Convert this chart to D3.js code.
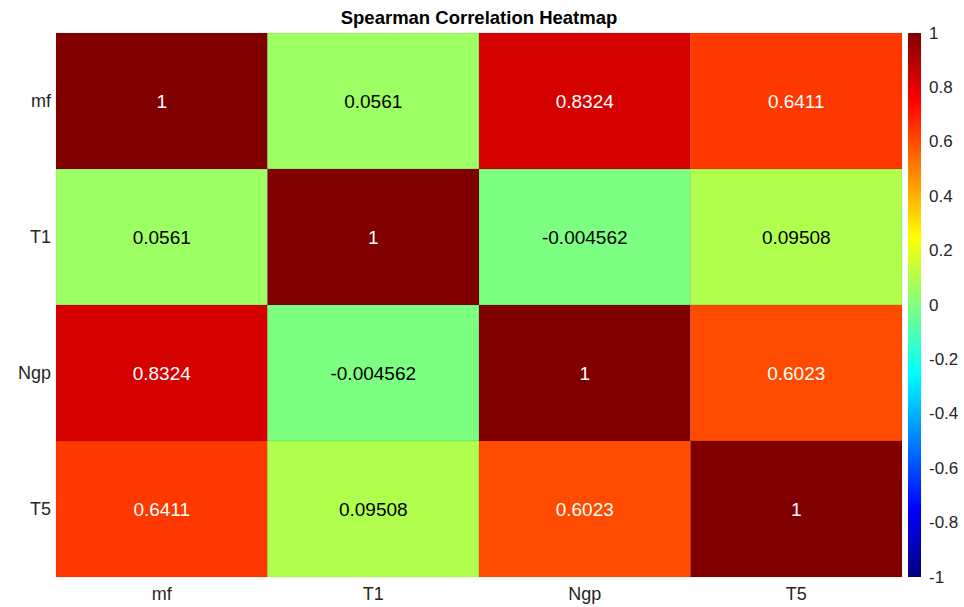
<!DOCTYPE html>
<html>
<head>
<meta charset="utf-8">
<script src="https://cdn.jsdelivr.net/npm/d3@7"></script>
<style>
  html, body { margin: 0; padding: 0; background: #ffffff; }
  svg { display: block; font-family: "Liberation Sans", Arial, Helvetica, sans-serif; }
</style>
</head>
<body>
<svg id="chart" width="964" height="607"></svg>
<script>
// Variables and their Spearman correlation matrix
const variables = ["mf", "T1", "Ngp", "T5"];
const rowMf  = [1, 0.0561, 0.8324, 0.6411];
const rowT1  = [0.0561, 1, -0.004562, 0.09508];
const rowNgp = [0.8324, -0.004562, 1, 0.6023];
const rowT5  = [0.6411, 0.09508, 0.6023, 1];
const matrix = [rowMf, rowT1, rowNgp, rowT5];
const labelText = ["1", "0.0561", "0.8324", "0.6411",
                   "0.0561", "1", "-0.004562", "0.09508",
                   "0.8324", "-0.004562", "1", "0.6023",
                   "0.6411", "0.09508", "0.6023", "1"];
const colorTicks = [1, 0.8, 0.6, 0.4, 0.2, 0, -0.2, -0.4, -0.6, -0.8, -1];
const colorTickLabels = ["1", "0.8", "0.6", "0.4", "0.2", "0", "-0.2", "-0.4", "-0.6", "-0.8", "-1"];

const svg = d3.select("#chart");
const margin = { left: 56, right: 902, top: 33, bottom: 577 };
const fontSize = 18;

// jet colormap (as in MATLAB)
function jet(t) {
  const c = v => Math.max(0, Math.min(1, v));
  const r = c(1.5 - Math.abs(4 * t - 3));
  const g = c(1.5 - Math.abs(4 * t - 2));
  const b = c(1.5 - Math.abs(4 * t - 1));
  return d3.rgb(Math.round(r * 255), Math.round(g * 255), Math.round(b * 255));
}
const toT = d3.scaleLinear().domain([-1, 1]).range([0, 1]).clamp(true);
const color = v => jet(toT(v));

const x = d3.scaleBand().domain(variables).range([margin.left, margin.right]).padding(0);
const y = d3.scaleBand().domain(variables).range([margin.top, margin.bottom]).padding(0);

const cells = [];
matrix.forEach((row, i) => row.forEach((v, j) => {
  cells.push({ row: variables[i], col: variables[j], value: v, text: labelText[i * 4 + j] });
}));

svg.append("g").selectAll("rect").data(cells).join("rect")
  .attr("x", d => x(d.col))
  .attr("y", d => y(d.row))
  .attr("width", x.bandwidth())
  .attr("height", y.bandwidth())
  .attr("fill", d => color(d.value))
  .attr("stroke", "rgba(0,0,0,0.08)")
  .attr("stroke-width", 1);

// Luminance picks the label colour
function textColor(v) {
  const c = color(v);
  const lum = 0.299 * c.r + 0.587 * c.g + 0.114 * c.b;
  return lum < 160 ? "#ffffff" : "#000000";
}

svg.append("g").selectAll("text").data(cells).join("text")
  .attr("x", d => x(d.col) + x.bandwidth() / 2)
  .attr("y", d => y(d.row) + y.bandwidth() / 2)
  .attr("text-anchor", "middle")
  .attr("dominant-baseline", "central")
  .attr("font-size", 19)
  .attr("fill", d => textColor(d.value))
  .text(d => d.text);

// Row labels
svg.append("g").selectAll("text").data(variables).join("text")
  .attr("x", margin.left - 5)
  .attr("y", d => y(d) + y.bandwidth() / 2)
  .attr("text-anchor", "end")
  .attr("dominant-baseline", "central")
  .attr("font-size", fontSize)
  .attr("fill", "#262626")
  .text(d => d);

// Column labels
svg.append("g").selectAll("text").data(variables).join("text")
  .attr("x", d => x(d) + x.bandwidth() / 2)
  .attr("y", margin.bottom + 17)
  .attr("text-anchor", "middle")
  .attr("dominant-baseline", "central")
  .attr("font-size", fontSize)
  .attr("fill", "#262626")
  .text(d => d);

// Title
svg.append("text")
  .attr("x", (margin.left + margin.right) / 2)
  .attr("y", 17)
  .attr("text-anchor", "middle")
  .attr("dominant-baseline", "central")
  .attr("font-size", 18.5)
  .attr("font-weight", "bold")
  .attr("fill", "#000")
  .text("Spearman Correlation Heatmap");

// Colorbar
const cbX = 908, cbW = 13;
const cbY = d3.scaleLinear().domain([-1, 1]).range([margin.bottom, margin.top]);
const defs = svg.append("defs");
const grad = defs.append("linearGradient").attr("id", "jetGrad")
  .attr("x1", 0).attr("y1", 1).attr("x2", 0).attr("y2", 0);
d3.range(0, 1.0001, 1 / 64).forEach(t => {
  grad.append("stop").attr("offset", t).attr("stop-color", jet(t).formatHex());
});
svg.append("rect")
  .attr("x", cbX).attr("y", margin.top)
  .attr("width", cbW).attr("height", margin.bottom - margin.top)
  .attr("fill", "url(#jetGrad)");

svg.append("g").selectAll("text").data(colorTicks).join("text")
  .attr("x", cbX + cbW + 8)
  .attr("y", d => cbY(d))
  .attr("text-anchor", "start")
  .attr("dominant-baseline", "central")
  .attr("font-size", fontSize - 1)
  .attr("fill", "#262626")
  .text((d, i) => colorTickLabels[i]);
</script>
</body>
</html>
